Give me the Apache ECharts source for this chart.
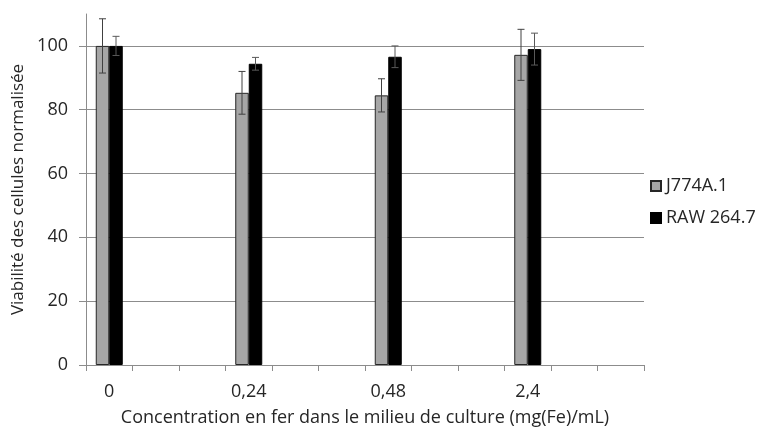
<!DOCTYPE html>
<html>
<head>
<meta charset="utf-8">
<script src="https://cdn.jsdelivr.net/npm/echarts@6/dist/echarts.min.js"></script>
<style>
  html, body { margin: 0; padding: 0; background: #fff; }
  #chart { width: 757px; height: 428px; }
</style>
</head>
<body>
<div id="chart"></div>
<script>
// axe des x : 12 cases, une étiquette toutes les 3
var categories = ['0', '', '', '0,24', '', '', '0,48', '', '', '2,4', '', ''];
var concentrations = ['0', '0,24', '0,48', '2,4'];
var j774 = [100, 85.3, 84.5, 97.2];
var j774Err = [8.5, 6.7, 5.2, 8.0];
var raw = [100, 94.4, 96.6, 99.0];
var rawErr = [3.0, 2.0, 3.4, 5.0];

var chartDom = document.getElementById('chart');
var chart = echarts.init(chartDom);

var barW = 13.5;
var font = '"Open Sans", sans-serif';

function toSlots(values) {
    var out = categories.map(function () { return '-'; });
    concentrations.forEach(function (c, i) {
        out[categories.indexOf(c)] = values[i];
    });
    return out;
}

function errData(values, errs) {
    return concentrations.map(function (c, i) {
        return [categories.indexOf(c), values[i], errs[i]];
    });
}

function errRender(offset, color) {
    return function (params, api) {
        var idx = api.value(0);
        var v = api.value(1);
        var e = api.value(2);
        var top = api.coord([idx, v + e]);
        var bot = api.coord([idx, v - e]);
        var x = top[0] + offset;
        var style = { stroke: color, lineWidth: 1 };
        return {
            type: 'group',
            children: [
                { type: 'line', shape: { x1: x, y1: top[1], x2: x, y2: bot[1] }, style: style },
                { type: 'line', shape: { x1: x - 3.5, y1: top[1], x2: x + 3.5, y2: top[1] }, style: style },
                { type: 'line', shape: { x1: x - 3.5, y1: bot[1], x2: x + 3.5, y2: bot[1] }, style: style }
            ]
        };
    };
}

var option = {
    animation: false,
    textStyle: { fontFamily: font },
    grid: {
        left: 86,
        right: 113,
        top: 14,
        bottom: 63,
        containLabel: false,
        outerBoundsMode: 'none',
    },
    legend: {
        orient: 'vertical',
        left: 650,
        top: 177,
        padding: 0,
        itemWidth: 10,
        itemHeight: 10,
        itemGap: 14,
        icon: 'rect',
        textStyle: { fontSize: 18, color: '#262626', fontFamily: font },
        data: ['J774A.1', 'RAW 264.7'],
    },
    xAxis: {
        type: 'category',
        data: categories,
        name: 'Concentration en fer dans le milieu de culture (mg(Fe)/mL)',
        nameLocation: 'middle',
        nameGap: 44,
        nameTextStyle: { fontSize: 18, color: '#262626' },
        axisLine: { lineStyle: { color: '#8c8c8c' } },
        axisTick: { show: true, alignWithLabel: false, interval: 0, length: 6, lineStyle: { color: '#8c8c8c' } },
        axisLabel: { interval: 0, fontSize: 18, color: '#262626', margin: 18 },
    },
    yAxis: {
        type: 'value',
        min: 0,
        max: 110,
        interval: 20,
        name: 'Viabilité des cellules normalisée',
        nameLocation: 'middle',
        nameGap: 52,
        nameTextStyle: { fontSize: 17, color: '#262626' },
        axisLine: { show: true, lineStyle: { color: '#8c8c8c' } },
        axisTick: { show: true, length: 7, lineStyle: { color: '#8c8c8c' } },
        axisLabel: { fontSize: 18, color: '#262626', margin: 18, showMaxLabel: false },
        splitLine: {
            show: true,
            lineStyle: {
                color: ['#8c8c8c', '#8c8c8c', '#8c8c8c', '#8c8c8c', '#8c8c8c', '#8c8c8c', 'rgba(0,0,0,0)']
            }
        },
    },
    series: [
        {
            name: 'J774A.1',
            type: 'bar',
            barWidth: barW,
            barGap: '0%',
            data: toSlots(j774),
            itemStyle: { color: '#a6a6a6', borderColor: '#262626', borderWidth: 1 },
        },
        {
            name: 'RAW 264.7',
            type: 'bar',
            barWidth: barW,
            barGap: '0%',
            data: toSlots(raw),
            itemStyle: { color: '#000000', borderColor: '#000000', borderWidth: 1 },
        },
        {
            type: 'custom',
            renderItem: errRender(-barW / 2, '#404040'),
            data: errData(j774, j774Err),
            encode: { x: 0, y: 1 },
            z: 5,
        },
        {
            type: 'custom',
            renderItem: errRender(barW / 2, '#595959'),
            data: errData(raw, rawErr),
            encode: { x: 0, y: 1 },
            z: 5,
        }
    ],
};

chart.setOption(option);
</script>
</body>
</html>
